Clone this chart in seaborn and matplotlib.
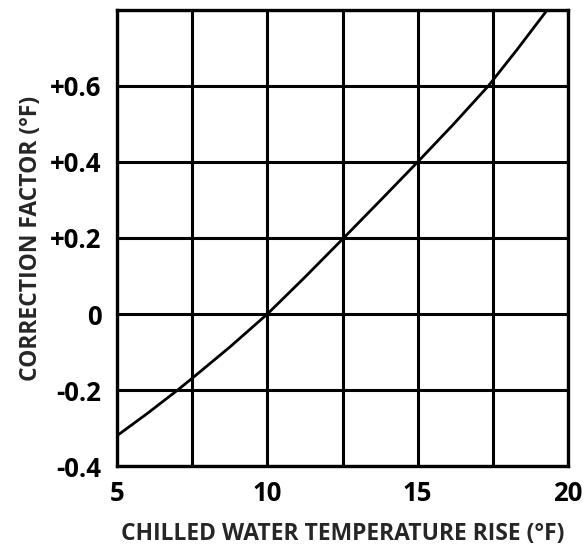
import matplotlib
matplotlib.use("Agg")
import matplotlib.pyplot as plt
import seaborn as sns
import pandas as pd

temp_rise = [5.0, 6.0, 7.0, 7.5, 8.75, 10.0, 11.25, 12.5, 13.75, 15.0, 16.2, 17.35, 18.3, 19.31]
correction = [-0.32, -0.262, -0.201, -0.169, -0.087, 0.0, 0.097, 0.197, 0.298, 0.4, 0.5, 0.6, 0.695, 0.8]

x_ticks = [5, 7.5, 10, 12.5, 15, 17.5, 20]
x_labels = ["5", "", "10", "", "15", "", "20"]
y_ticks = [-0.4, -0.2, 0.0, 0.2, 0.4, 0.6, 0.8]
y_labels = ["-0.4", "-0.2", "0", "+0.2", "+0.4", "+0.6", ""]

sns.set_style("white")
plt.rcParams['font.family'] = ['Open Sans', 'DejaVu Sans']
plt.rcParams['font.weight'] = 'bold'

df = pd.DataFrame({"x": temp_rise, "y": correction})

fig = plt.figure(figsize=(5.85, 5.49), dpi=100)
ax = fig.add_axes([0.2, 0.151, 0.771, 0.831])
sns.lineplot(data=df, x="x", y="y", ax=ax, color="black", linewidth=2.0)

ax.set_xlim(5, 20)
ax.set_ylim(-0.4, 0.8)
ax.set_xticks(x_ticks)
ax.set_xticklabels(x_labels)
ax.set_yticks(y_ticks)
ax.set_yticklabels(y_labels)
ax.grid(True, color="black", linewidth=2.2)
ax.set_axisbelow(True)
for s in ax.spines.values():
    s.set_color("black")
    s.set_linewidth(2.4)
ax.tick_params(axis="both", length=0, labelsize=18.5, colors="black")
ax.tick_params(axis="x", pad=10)
ax.tick_params(axis="y", pad=11)
for t in ax.get_xticklabels() + ax.get_yticklabels():
    t.set_fontweight("bold")
ax.set_xlabel("CHILLED WATER TEMPERATURE RISE (°F)", fontsize=16.5, fontweight="bold", labelpad=11)
ax.set_ylabel("CORRECTION FACTOR (°F)", fontsize=16.5, fontweight="bold", labelpad=5)

fig.savefig("out.png", dpi=100, facecolor="white")
